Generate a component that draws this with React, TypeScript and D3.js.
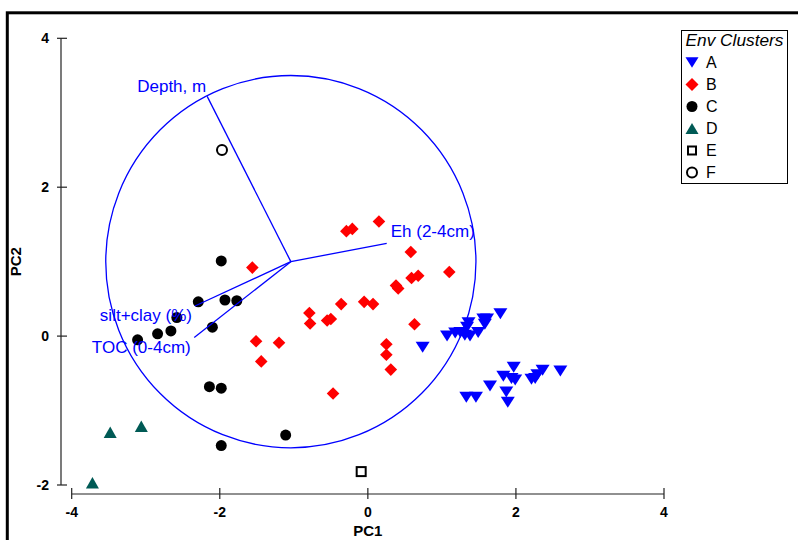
import React from "react";
import * as d3 from "d3";

const W = 798;
const H = 540;

const xTicks = [-4, -2, 0, 2, 4];
const yTicks = [-2, 0, 2, 4];

// Cluster A (blue, inverted triangle)
const clusterA_pc1 = [1.79, 1.56, 1.61, 1.58, 1.36, 1.34, 1.07, 1.18, 1.25, 1.31, 1.38, 1.49, 0.74,
  1.97, 1.83, 1.94, 1.99, 1.65, 1.87, 1.89, 1.33, 1.46, 2.21, 2.26, 2.36, 2.29, 2.6];
const clusterA_pc2 = [0.3, 0.23, 0.23, 0.16, 0.18, 0.12, 0.0, 0.04, 0.05, 0.01, 0.0, 0.05, -0.15,
  -0.42, -0.54, -0.57, -0.59, -0.67, -0.75, -0.89, -0.82, -0.82, -0.58, -0.57, -0.46, -0.52, -0.47];

// Cluster B (red diamond)
const clusterB_pc1 = [0.15, -0.29, -0.21, 0.58, 1.1, 0.59, 0.68, 0.38, 0.41, -1.56, -0.36, -0.05, 0.07,
  -0.79, -0.78, -0.55, -0.5, 0.63, -1.51, -1.2, -1.44, 0.25, 0.25, 0.31, -0.47];
const clusterB_pc2 = [1.54, 1.41, 1.44, 1.13, 0.86, 0.78, 0.81, 0.68, 0.64, 0.92, 0.43, 0.46, 0.43,
  0.31, 0.17, 0.21, 0.23, 0.16, -0.07, -0.09, -0.34, -0.11, -0.25, -0.45, -0.77];

// Cluster C (black filled circle)
const clusterC_pc1 = [-1.98, -2.29, -1.93, -1.77, -2.58, -2.66, -2.84, -3.11, -2.1, -2.14, -1.98, -1.11, -1.98];
const clusterC_pc2 = [1.01, 0.46, 0.485, 0.475, 0.25, 0.07, 0.03, -0.05, 0.12, -0.68, -0.7, -1.33, -1.47];

// Cluster D (teal triangle)
const clusterD_pc1 = [-3.48, -3.06, -3.72];
const clusterD_pc2 = [-1.29, -1.21, -1.97];

// Cluster E (open square)
const clusterE_pc1 = [-0.09];
const clusterE_pc2 = [-1.82];

// Cluster F (open circle)
const clusterF_pc1 = [-1.97];
const clusterF_pc2 = [2.5];

// Biplot vectors
const vectorNames = ["Depth, m", "Eh (2-4cm)", "silt+clay (%)", "TOC (0-4cm)"];
const vectorPC1 = [-2.17, 0.255, -2.335, -2.345];
const vectorPC2 = [3.22, 1.246, 0.404, -0.02];
const circleCenter = [-1.04, 1.0];
const circleRadius = 2.5;

const legendTitle = "Env Clusters";
const legendLabels = ["A", "B", "C", "D", "E", "F"];

const BLUE = "#0000ff";
const RED = "#ff0000";
const TEAL = "#005a55";

const triDown = (w: number, h: number) => `M${-w / 2},${-h / 2}L${w / 2},${-h / 2}L0,${h / 2}Z`;
const triUp = (w: number, h: number) => `M0,${-h / 2}L${w / 2},${h / 2}L${-w / 2},${h / 2}Z`;
const diamond = (s: number) => `M0,${-s}L${s},0L0,${s}L${-s},0Z`;

function Marker({ k, x, y, legend = false }: { k: string; x: number; y: number; legend?: boolean }) {
  const t = `translate(${x},${y})`;
  switch (k) {
    case "A":
      return <path transform={t} d={legend ? triDown(13, 10.5) : triDown(14, 11)} fill={BLUE} />;
    case "B":
      return <path transform={t} d={diamond(legend ? 6.5 : 6.3)} fill={RED} />;
    case "C":
      return <circle cx={x} cy={y} r={5.5} fill="#000" />;
    case "D":
      return <path transform={t} d={legend ? triUp(13, 11) : triUp(13, 11.5)} fill={TEAL} />;
    case "E":
      return legend ? (
        <rect x={x - 4} y={y - 4} width={8} height={8} fill="#fff" stroke="#000" strokeWidth={2} />
      ) : (
        <rect x={x - 4.5} y={y - 4.5} width={9} height={9} fill="#fff" stroke="#000" strokeWidth={2} />
      );
    case "F":
      return <circle cx={x} cy={y} r={5} fill="#fff" stroke="#000" strokeWidth={2} />;
  }
  return null;
}

export default function App() {
  const x = d3.scaleLinear().domain([-4, 4]).range([71.7, 664]);
  const y = d3.scaleLinear().domain([-2, 4]).range([485, 38.3]);
  const axisY = 494;
  const axisX = 61;

  const groups: [string, number[], number[]][] = [
    ["A", clusterA_pc1, clusterA_pc2],
    ["B", clusterB_pc1, clusterB_pc2],
    ["C", clusterC_pc1, clusterC_pc2],
    ["D", clusterD_pc1, clusterD_pc2],
    ["E", clusterE_pc1, clusterE_pc2],
    ["F", clusterF_pc1, clusterF_pc2],
  ];

  const cx = x(circleCenter[0]);
  const cy = y(circleCenter[1]);
  const rx = x(circleRadius) - x(0);
  const ry = y(0) - y(circleRadius);

  // label offsets (dx, dy, anchor)
  const labelPos: [number, number, string][] = [
    [-1, -4, "end"],
    [4, -6, "start"],
    [-3, 15, "end"],
    [-3.5, 15, "end"],
  ];

  const font = "Arial, 'Liberation Sans', Helvetica, sans-serif";

  return (
    <svg width={W} height={H} style={{ position: "absolute", left: 0, top: 0 }} fontFamily={font}>
      <rect x={0} y={0} width={W} height={H} fill="#fff" />
      {/* outer frame */}
      <rect x={7.3} y={12.8} width={W + 100} height={H + 100} fill="none" stroke="#000" strokeWidth={3} />

      {/* Y axis */}
      <line x1={axisX} x2={axisX} y1={y(4)} y2={y(-2)} stroke="#222" strokeWidth={1.2} />
      {yTicks.map((t) => (
        <g key={"yt" + t}>
          <line x1={axisX - 4} x2={axisX + 6} y1={y(t)} y2={y(t)} stroke="#222" strokeWidth={1.2} />
          <text x={49} y={y(t)} dy="0.36em" textAnchor="end" fontWeight="bold" fontSize={14}>
            {t}
          </text>
        </g>
      ))}
      <text
        transform={`translate(21,${(y(4) + y(-2)) / 2}) rotate(-90)`}
        textAnchor="middle"
        fontWeight="bold"
        fontSize={15}
      >
        PC2
      </text>

      {/* X axis */}
      <line x1={x(-4)} x2={x(4)} y1={axisY} y2={axisY} stroke="#222" strokeWidth={1.2} />
      {xTicks.map((t) => (
        <g key={"xt" + t}>
          <line x1={x(t)} x2={x(t)} y1={axisY - 6} y2={axisY + 5} stroke="#222" strokeWidth={1.2} />
          <text x={x(t)} y={517} textAnchor="middle" fontWeight="bold" fontSize={14}>
            {t}
          </text>
        </g>
      ))}
      <text x={x(0)} y={536} textAnchor="middle" fontWeight="bold" fontSize={15}>
        PC1
      </text>

      {/* points */}
      {groups.map(([k, xs, ys]) => (
        <g key={k}>
          {xs.map((v, i) => (
            <Marker key={i} k={k} x={x(v)} y={y(ys[i])} />
          ))}
        </g>
      ))}

      {/* biplot circle & vectors */}
      <ellipse cx={cx} cy={cy} rx={rx} ry={ry} fill="none" stroke={BLUE} strokeWidth={1.3} />
      {vectorNames.map((n, i) => {
        const ex = x(vectorPC1[i]);
        const ey = y(vectorPC2[i]);
        const [dx, dy, anchor] = labelPos[i];
        return (
          <g key={n}>
            <line x1={cx} y1={cy} x2={ex} y2={ey} stroke={BLUE} strokeWidth={1.3} />
            <text x={ex + dx} y={ey + dy} textAnchor={anchor as any} fill={BLUE} fontSize={17}>
              {n}
            </text>
          </g>
        );
      })}

      {/* legend */}
      <rect x={681.5} y={30.5} width={106} height={153} fill="#fff" stroke="#000" strokeWidth={1} />
      <text x={685.5} y={46} fontStyle="italic" fontSize={17.3}>
        {legendTitle}
      </text>
      {legendLabels.map((l, i) => {
        const ly = 62.5 + i * 22;
        return (
          <g key={l}>
            <Marker k={l} x={692} y={ly} legend />
            <text x={706} y={ly} dy="0.36em" fontSize={16}>
              {l}
            </text>
          </g>
        );
      })}
    </svg>
  );
}
